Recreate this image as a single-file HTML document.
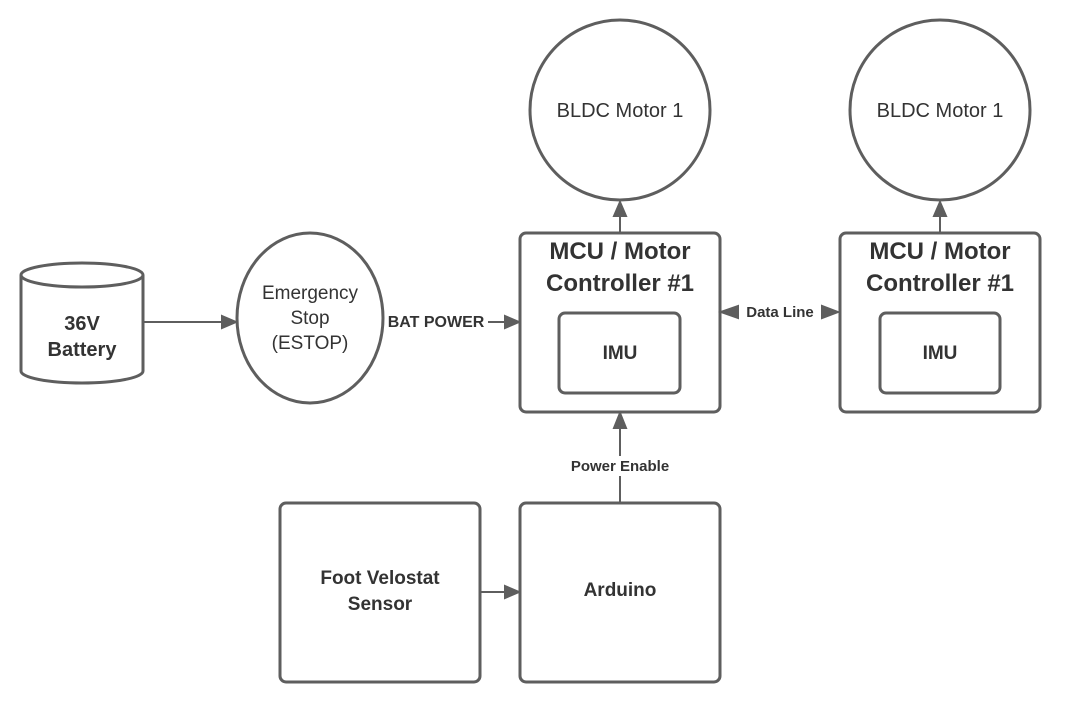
<!DOCTYPE html>
<html><head><style>
body{margin:0;background:#fff}
svg text{font-family:"Liberation Sans",sans-serif;fill:#333}
</style></head><body>
<svg width="1080" height="723" viewBox="0 0 1080 723" xmlns="http://www.w3.org/2000/svg">
<g stroke="#5e5e5e" stroke-width="3" fill="#fff">
<circle cx="620" cy="110" r="90"/>
<circle cx="940" cy="110" r="90"/>
<rect x="520" y="233" width="200" height="179" rx="6"/>
<rect x="840" y="233" width="200" height="179" rx="6"/>
<rect x="559" y="313" width="121" height="80" rx="6"/>
<rect x="880" y="313" width="120" height="80" rx="6"/>
<rect x="280" y="503" width="200" height="179" rx="6"/>
<rect x="520" y="503" width="200" height="179" rx="6"/>
<ellipse cx="310" cy="318" rx="73" ry="85"/>
<path d="M21,275 v96 a61,12 0 0 0 122,0 v-96"/>
<ellipse cx="82" cy="275" rx="61" ry="12"/>
</g>
<g stroke="#5e5e5e" stroke-width="2" fill="none">
<line x1="143" y1="322" x2="227" y2="322"/>
<path d="M222,316 L236,322 L222,328z" fill="#5e5e5e"/>
<line x1="488" y1="322" x2="510" y2="322"/>
<path d="M505,316 L519,322 L505,328z" fill="#5e5e5e"/>
<line x1="620" y1="233" x2="620" y2="214"/>
<path d="M614,216 L620,202 L626,216z" fill="#5e5e5e"/>
<line x1="940" y1="233" x2="940" y2="214"/>
<path d="M934,216 L940,202 L946,216z" fill="#5e5e5e"/>
<line x1="620" y1="503" x2="620" y2="476"/>
<line x1="620" y1="456" x2="620" y2="425"/>
<path d="M614,428 L620,413 L626,428z" fill="#5e5e5e"/>
<path d="M721,312 L738,306 L738,318z" fill="#5e5e5e"/>
<path d="M838,312 L822,306 L822,318z" fill="#5e5e5e"/>
<line x1="480" y1="592" x2="508" y2="592"/>
<path d="M505,586 L519,592 L505,598z" fill="#5e5e5e"/>
</g>
<g text-anchor="middle">
<text x="620" y="117" font-size="20">BLDC Motor 1</text>
<text x="940" y="117" font-size="20">BLDC Motor 1</text>
<text x="620" y="259" font-size="24" font-weight="bold">MCU / Motor</text>
<text x="620" y="291" font-size="24" font-weight="bold">Controller #1</text>
<text x="940" y="259" font-size="24" font-weight="bold">MCU / Motor</text>
<text x="940" y="291" font-size="24" font-weight="bold">Controller #1</text>
<text x="620" y="359" font-size="19" font-weight="bold">IMU</text>
<text x="940" y="359" font-size="19" font-weight="bold">IMU</text>
<text x="82" y="330" font-size="20" font-weight="bold">36V</text>
<text x="82" y="356" font-size="20" font-weight="bold">Battery</text>
<text x="310" y="299" font-size="19">Emergency</text>
<text x="310" y="324" font-size="19">Stop</text>
<text x="310" y="349" font-size="19">(ESTOP)</text>
<text x="436" y="327" font-size="16" font-weight="bold">BAT POWER</text>
<text x="780" y="317" font-size="15" font-weight="bold">Data Line</text>
<text x="620" y="471" font-size="15" font-weight="bold">Power Enable</text>
<text x="380" y="584" font-size="19" font-weight="bold">Foot Velostat</text>
<text x="380" y="610" font-size="19" font-weight="bold">Sensor</text>
<text x="620" y="596" font-size="19" font-weight="bold">Arduino</text>
</g>
</svg>
</body></html>
